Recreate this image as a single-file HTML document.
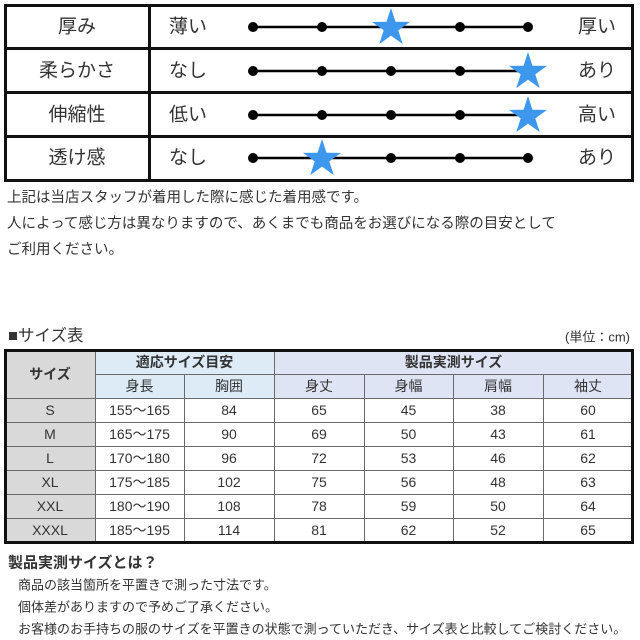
<!DOCTYPE html>
<html><head><meta charset="utf-8">
<style>
html,body{margin:0;padding:0;background:#fff;}
svg{display:block;}
text{font-family:"Liberation Sans","Noto Sans CJK JP",sans-serif;fill:#333;}
</style></head>
<body>
<svg width="640" height="640" viewBox="0 0 640 640" xmlns="http://www.w3.org/2000/svg">
<defs>
<polygon id="star" points="0,-20 4.5,-6.19 19.02,-6.18 7.28,2.36 11.76,16.18 0,7.65 -11.76,16.18 -7.28,2.36 -19.02,-6.18 -4.5,-6.19" fill="#3d97ec"/>
</defs>

<!-- Top table -->
<rect x="5.5" y="5.5" width="627" height="175" fill="#fff" stroke="#111" stroke-width="3"/>
<line x1="5" y1="48.5" x2="633" y2="48.5" stroke="#111" stroke-width="3"/>
<line x1="5" y1="92.5" x2="633" y2="92.5" stroke="#111" stroke-width="3"/>
<line x1="5" y1="136.5" x2="633" y2="136.5" stroke="#111" stroke-width="3"/>
<line x1="149.5" y1="5" x2="149.5" y2="181" stroke="#111" stroke-width="3"/>

<g font-size="19" dominant-baseline="central">
<text x="77" y="27" text-anchor="middle">厚み</text>
<text x="77" y="71" text-anchor="middle">柔らかさ</text>
<text x="77" y="115" text-anchor="middle">伸縮性</text>
<text x="77" y="158" text-anchor="middle">透け感</text>
<text x="169" y="27">薄い</text>
<text x="169" y="71">なし</text>
<text x="169" y="115">低い</text>
<text x="169" y="158">なし</text>
<text x="597" y="27" text-anchor="middle">厚い</text>
<text x="597" y="71" text-anchor="middle">あり</text>
<text x="597" y="115" text-anchor="middle">高い</text>
<text x="597" y="158" text-anchor="middle">あり</text>
</g>

<g stroke="#000" stroke-width="2.5">
<line x1="253" y1="27" x2="528" y2="27"/>
<line x1="253" y1="71" x2="528" y2="71"/>
<line x1="253" y1="115" x2="528" y2="115"/>
<line x1="253" y1="158" x2="528" y2="158"/>
</g>
<g fill="#000">
<circle cx="253" cy="27" r="5"/><circle cx="322" cy="27" r="5"/><circle cx="391" cy="27" r="5"/><circle cx="460" cy="27" r="5"/><circle cx="528" cy="27" r="5"/>
<circle cx="253" cy="71" r="5"/><circle cx="322" cy="71" r="5"/><circle cx="391" cy="71" r="5"/><circle cx="460" cy="71" r="5"/><circle cx="528" cy="71" r="5"/>
<circle cx="253" cy="115" r="5"/><circle cx="322" cy="115" r="5"/><circle cx="391" cy="115" r="5"/><circle cx="460" cy="115" r="5"/><circle cx="528" cy="115" r="5"/>
<circle cx="253" cy="158" r="5"/><circle cx="322" cy="158" r="5"/><circle cx="391" cy="158" r="5"/><circle cx="460" cy="158" r="5"/><circle cx="528" cy="158" r="5"/>
</g>
<use href="#star" x="391" y="28"/>
<use href="#star" x="528" y="72"/>
<use href="#star" x="528" y="116"/>
<use href="#star" x="322" y="159"/>

<!-- notes -->
<g font-size="14.5" dominant-baseline="central">
<text x="7" y="198">上記は当店スタッフが着用した際に感じた着用感です。</text>
<text x="7" y="224">人によって感じ方は異なりますので、あくまでも商品をお選びになる際の目安として</text>
<text x="7" y="250">ご利用ください。</text>
</g>

<!-- size table title -->
<text x="8" y="336" font-size="16.5" dominant-baseline="central">■サイズ表</text>
<text x="630" y="337" font-size="13" text-anchor="end" dominant-baseline="central">(単位：cm)</text>

<!-- size table fills -->
<rect x="5" y="350" width="90" height="192" fill="#d9d9d9"/>
<rect x="95" y="350" width="179" height="48" fill="#ddebf7"/>
<rect x="274" y="350" width="359" height="48" fill="#dfe4f5"/>

<!-- inner grid lines -->
<g stroke="#6a6a6a" stroke-width="1">
<line x1="95" y1="374.5" x2="633" y2="374.5"/>
<line x1="5" y1="398.5" x2="633" y2="398.5"/>
<line x1="5" y1="422.5" x2="633" y2="422.5"/>
<line x1="5" y1="446.5" x2="633" y2="446.5"/>
<line x1="5" y1="470.5" x2="633" y2="470.5"/>
<line x1="5" y1="494.5" x2="633" y2="494.5"/>
<line x1="5" y1="518.5" x2="633" y2="518.5"/>
<line x1="95.5" y1="350" x2="95.5" y2="542"/>
<line x1="184.5" y1="374" x2="184.5" y2="542"/>
<line x1="274.5" y1="350" x2="274.5" y2="542"/>
<line x1="364.5" y1="374" x2="364.5" y2="542"/>
<line x1="453.5" y1="374" x2="453.5" y2="542"/>
<line x1="543.5" y1="374" x2="543.5" y2="542"/>
</g>
<rect x="5.5" y="350.5" width="627" height="192" fill="none" stroke="#111" stroke-width="3"/>

<!-- size table text -->
<g font-size="14" dominant-baseline="central" text-anchor="middle">
<text x="50" y="374" font-weight="bold" fill="#222">サイズ</text>
<text x="184.5" y="362" font-weight="bold" fill="#222">適応サイズ目安</text>
<text x="453.5" y="362" font-weight="bold" fill="#222">製品実測サイズ</text>
<text x="139.5" y="386">身長</text>
<text x="229" y="386">胸囲</text>
<text x="319" y="386">身丈</text>
<text x="408.5" y="386">身幅</text>
<text x="498" y="386">肩幅</text>
<text x="588" y="386">袖丈</text>

<text x="50" y="410">S</text><text x="139.5" y="410">155〜165</text><text x="229" y="410">84</text><text x="319" y="410">65</text><text x="408.5" y="410">45</text><text x="498" y="410">38</text><text x="588" y="410">60</text>
<text x="50" y="434">M</text><text x="139.5" y="434">165〜175</text><text x="229" y="434">90</text><text x="319" y="434">69</text><text x="408.5" y="434">50</text><text x="498" y="434">43</text><text x="588" y="434">61</text>
<text x="50" y="458">L</text><text x="139.5" y="458">170〜180</text><text x="229" y="458">96</text><text x="319" y="458">72</text><text x="408.5" y="458">53</text><text x="498" y="458">46</text><text x="588" y="458">62</text>
<text x="50" y="482">XL</text><text x="139.5" y="482">175〜185</text><text x="229" y="482">102</text><text x="319" y="482">75</text><text x="408.5" y="482">56</text><text x="498" y="482">48</text><text x="588" y="482">63</text>
<text x="50" y="506">XXL</text><text x="139.5" y="506">180〜190</text><text x="229" y="506">108</text><text x="319" y="506">78</text><text x="408.5" y="506">59</text><text x="498" y="506">50</text><text x="588" y="506">64</text>
<text x="50" y="530">XXXL</text><text x="139.5" y="530">185〜195</text><text x="229" y="530">114</text><text x="319" y="530">81</text><text x="408.5" y="530">62</text><text x="498" y="530">52</text><text x="588" y="530">65</text>
</g>

<!-- bottom notes -->
<text x="8" y="563" font-size="15" font-weight="bold" fill="#111" dominant-baseline="central">製品実測サイズとは？</text>
<g font-size="13" dominant-baseline="central">
<text x="18" y="585">商品の該当箇所を平置きで測った寸法です。</text>
<text x="18" y="607">個体差がありますので予めご了承ください。</text>
<text x="18" y="629">お客様のお手持ちの服のサイズを平置きの状態で測っていただき、サイズ表と比較してご検討ください。</text>
</g>
</svg>
</body></html>
